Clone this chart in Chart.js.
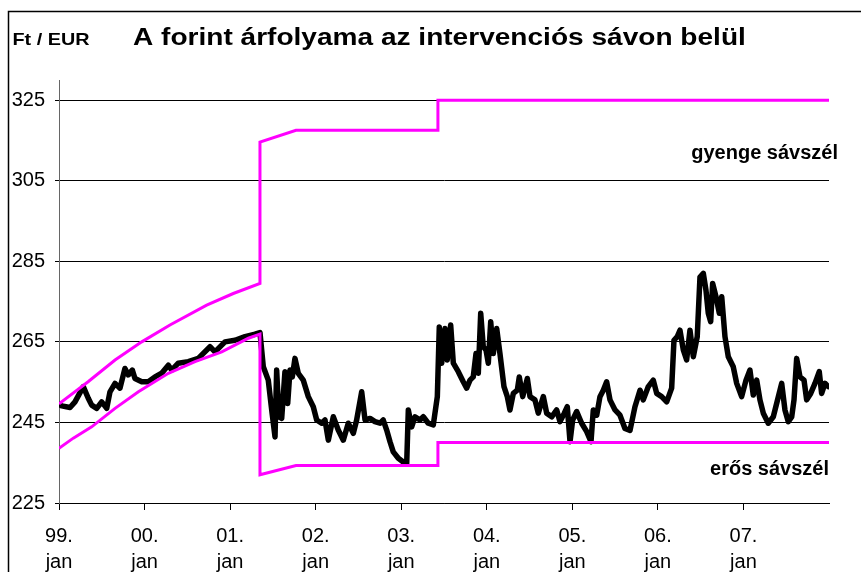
<!DOCTYPE html>
<html><head><meta charset="utf-8">
<script src="https://cdn.jsdelivr.net/npm/chart.js@4.4.1/dist/chart.umd.min.js"></script>
<style>html,body{margin:0;padding:0;background:#fff;} #wrap{width:861px;height:572px;position:relative;}</style>
</head><body><div id="wrap"><canvas id="c" width="861" height="572"></canvas></div>
<script>
const titleText = 'A forint árfolyama az intervenciós sávon belül';
const unitText = 'Ft / EUR';
const weakLabel = 'gyenge sávszél';
const strongLabel = 'erős sávszél';

const yTickValues = [225, 245, 265, 285, 305, 325];
const xTickYears = [1999, 2000, 2001, 2002, 2003, 2004, 2005, 2006, 2007];
const xTickLabels = [['99.','jan'],['00.','jan'],['01.','jan'],['02.','jan'],['03.','jan'],['04.','jan'],['05.','jan'],['06.','jan'],['07.','jan']];

// Ft/EUR exchange rate (decimal year, value)
const rateDates = [
 1999.000,1999.032,1999.129,1999.187,1999.284,1999.342,1999.382,1999.441,1999.499,1999.558,1999.596,1999.655,1999.713,1999.771,1999.810,1999.857,1999.888,1999.967,
 2000.044,2000.122,2000.200,2000.278,2000.317,2000.394,2000.511,2000.628,2000.765,2000.823,2000.940,
 2001.057,2001.174,2001.291,2001.349,2001.388,2001.446,2001.486,2001.525,2001.544,2001.571,2001.603,2001.641,2001.673,2001.700,2001.727,2001.758,2001.797,2001.855,2001.914,2001.972,
 2002.012,2002.070,2002.109,2002.148,2002.206,2002.264,2002.323,2002.381,2002.440,2002.479,2002.538,2002.577,2002.635,2002.693,2002.752,2002.790,2002.830,2002.869,2002.907,2002.966,
 2003.024,2003.064,2003.083,2003.122,2003.161,2003.219,2003.258,2003.316,2003.375,2003.422,2003.445,2003.473,2003.512,2003.538,2003.578,2003.609,2003.667,2003.725,2003.765,2003.804,2003.842,2003.874,2003.901,2003.929,2003.959,2003.991,
 2004.018,2004.046,2004.076,2004.116,2004.154,2004.201,2004.240,2004.271,2004.310,2004.357,2004.380,2004.420,2004.474,2004.505,2004.563,2004.602,2004.661,2004.700,2004.759,2004.817,2004.856,2004.906,2004.941,2004.973,
 2005.004,2005.051,2005.109,2005.168,2005.218,2005.245,2005.285,2005.323,2005.362,2005.401,2005.440,2005.499,2005.557,2005.615,2005.674,2005.732,2005.791,2005.829,2005.888,2005.946,2005.986,
 2006.044,2006.103,2006.161,2006.188,2006.227,2006.258,2006.297,2006.336,2006.375,2006.414,2006.460,2006.492,2006.531,2006.562,2006.589,2006.617,2006.640,2006.679,2006.718,2006.746,2006.784,2006.823,2006.881,2006.921,2006.979,
 2007.030,2007.076,2007.115,2007.155,2007.193,2007.232,2007.290,2007.349,2007.388,2007.447,2007.485,2007.524,2007.564,2007.591,2007.622,2007.661,2007.708,2007.739,2007.786,2007.836,2007.886,2007.914,2007.953,2007.992
];
const rateValues = [
 249.5,249.1,248.7,250.1,253.9,251.0,249.3,248.5,250.1,248.5,252.6,254.7,253.5,258.4,256.8,258.0,255.9,255.1,
 255.1,256.3,257.2,259.2,258.0,259.7,260.1,260.9,263.8,262.5,265.0,
 265.4,266.3,266.9,267.3,258.8,255.5,248.1,241.4,258.0,246.4,246.0,257.6,249.7,258.0,256.3,260.9,257.2,255.5,251.4,248.9,
 245.6,244.8,245.6,240.6,246.4,243.1,240.6,244.8,242.3,245.6,252.6,245.6,246.0,245.2,244.8,245.6,243.1,240.2,237.7,236.1,
 235.2,234.8,248.1,243.9,246.4,245.6,246.4,244.8,244.4,251.4,268.7,259.7,268.3,260.5,269.2,259.7,257.6,255.1,253.5,255.5,256.3,262.1,257.2,272.1,263.8,263.0,
 259.7,270.0,262.1,268.3,262.1,253.9,251.4,248.1,252.2,253.0,256.3,251.4,255.9,251.4,250.6,247.3,251.4,247.3,246.4,248.1,245.2,247.3,248.9,240.2,
 245.6,247.7,244.8,242.7,240.2,248.1,246.8,251.4,253.0,255.1,250.6,248.1,246.8,243.5,243.0,248.9,253.0,250.6,253.9,255.5,252.2,
 251.4,250.1,253.5,265.4,266.3,267.9,263.0,260.5,267.9,261.3,266.3,281.1,282.0,277.8,272.1,270.0,279.5,276.2,272.1,276.2,266.3,261.3,258.8,254.7,251.4,
 255.5,258.0,251.8,255.5,250.6,247.3,244.8,246.4,249.7,254.7,248.1,245.2,246.4,250.6,260.9,256.3,255.5,250.6,252.2,254.7,257.6,252.2,254.7,253.9
];

// weak (upper) edge of the intervention band
const weakDates  = [1999.000,1999.340,1999.655,1999.967,2000.297,2000.726,2001.037,2001.349,2001.349,2001.770,2003.429,2003.429,2008.000];
const weakValues = [249.6,255.1,260.5,265.0,269.2,274.1,277.0,279.5,314.6,317.5,317.5,325.0,325.0];
// strong (lower) edge of the intervention band
const strongDates  = [1999.000,1999.167,1999.382,1999.655,1999.928,2000.278,2000.590,2000.902,2001.214,2001.349,2001.349,2001.770,2003.429,2003.429,2008.000];
const strongValues = [238.6,241.1,243.9,248.5,252.6,257.2,260.1,262.5,265.9,266.9,232.0,234.3,234.3,240.0,240.0];

const toPts = (xs, ys) => xs.map((x, i) => ({x: x, y: ys[i]}));
const FONT = '"Liberation Sans", Arial, Helvetica, sans-serif';

function drawStretched(c, text, x, y, font, sx) {
  c.save();
  c.font = font;
  c.textAlign = 'left';
  c.textBaseline = 'alphabetic';
  c.translate(x, y);
  c.scale(sx, 1);
  c.fillText(text, 0, 0);
  c.restore();
}

const textPlugin = {
  id: 'texts',
  beforeDraw(chart) {
    const c = chart.ctx;
    c.save();
    c.fillStyle = '#fff';
    c.fillRect(0, 0, chart.width, chart.height);
    c.restore();
  },
  afterDraw(chart) {
    const c = chart.ctx;
    c.save();
    c.strokeStyle = '#000';
    c.lineWidth = 1.5;
    c.beginPath();
    c.moveTo(8.5, chart.height);
    c.lineTo(8.5, 11.5);
    c.lineTo(chart.width, 11.5);
    c.stroke();
    c.fillStyle = '#000';
    drawStretched(c, titleText, 133, 45, 'bold 23px ' + FONT, 1.22);
    drawStretched(c, unitText, 12.5, 45, 'bold 16.5px ' + FONT, 1.2);
    c.font = 'bold 20px ' + FONT;
    c.textAlign = 'right';
    c.textBaseline = 'alphabetic';
    c.fillText(weakLabel, 838, 159);
    c.fillText(strongLabel, 829, 475);
    c.restore();
  }
};

new Chart(document.getElementById('c'), {
  type: 'line',
  data: {
    datasets: [
      {label: weakLabel, data: toPts(weakDates, weakValues), borderColor: '#ff00ff', borderWidth: 3, pointRadius: 0, fill: false, tension: 0},
      {label: strongLabel, data: toPts(strongDates, strongValues), borderColor: '#ff00ff', borderWidth: 3, pointRadius: 0, fill: false, tension: 0},
      {label: 'Ft/EUR', data: toPts(rateDates, rateValues), borderColor: '#000', borderWidth: 5.5, pointRadius: 0, fill: false, tension: 0, borderJoinStyle: 'round', borderCapStyle: 'round'}
    ]
  },
  options: {
    responsive: false,
    animation: false,
    devicePixelRatio: 1,
    layout: {padding: {top: 80, right: 32, bottom: 0, left: 0}},
    plugins: {legend: {display: false}, tooltip: {enabled: false}, title: {display: false}},
    scales: {
      x: {
        type: 'linear', min: 1999, max: 2008,
        afterBuildTicks: s => { s.ticks = xTickYears.map(v => ({value: v})); },
        afterFit: s => { s.height = 69; },
        grid: {drawOnChartArea: false, drawTicks: true, tickLength: 7, color: '#000', tickColor: '#000'},
        border: {display: true, color: '#000', width: 1},
        ticks: {
          autoSkip: false, maxRotation: 0, minRotation: 0, padding: 13, color: '#000',
          font: {family: FONT, size: 20, lineHeight: 1.3},
          callback: v => { const i = xTickYears.indexOf(v); return i >= 0 ? xTickLabels[i] : ''; }
        }
      },
      y: {
        min: 225, max: 330,
        afterBuildTicks: s => { s.ticks = yTickValues.map(v => ({value: v})); },
        afterFit: s => { s.width = 59; },
        grid: {color: '#000', tickColor: '#000', tickLength: 4, lineWidth: 1},
        border: {display: true, color: '#666', width: 1},
        ticks: {padding: 10, color: '#000', font: {family: FONT, size: 20}}
      }
    }
  },
  plugins: [textPlugin]
});
</script>
</body></html>
